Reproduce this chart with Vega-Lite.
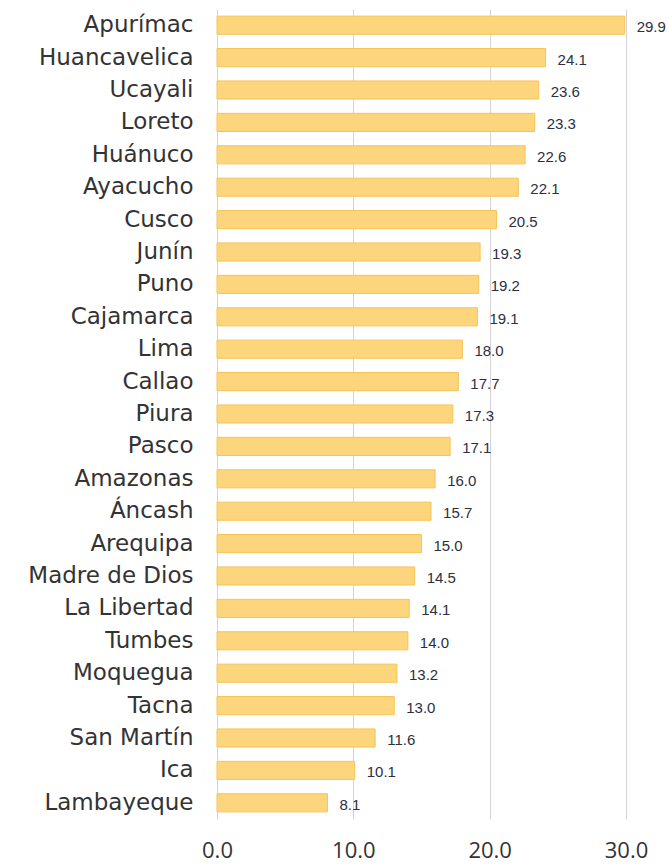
{
  "$schema": "https://vega.github.io/schema/vega-lite/v6.json",
  "autosize": {"type": "none"},
  "width": 409,
  "height": 810,
  "padding": {"left": 217, "top": 9, "right": 43, "bottom": 46},
  "background": "white",
  "config": {"view": {"stroke": null}},
  "data": {"values": [
    {"region": "Apurímac", "value": 29.9},
    {"region": "Huancavelica", "value": 24.1},
    {"region": "Ucayali", "value": 23.6},
    {"region": "Loreto", "value": 23.3},
    {"region": "Huánuco", "value": 22.6},
    {"region": "Ayacucho", "value": 22.1},
    {"region": "Cusco", "value": 20.5},
    {"region": "Junín", "value": 19.3},
    {"region": "Puno", "value": 19.2},
    {"region": "Cajamarca", "value": 19.1},
    {"region": "Lima", "value": 18.0},
    {"region": "Callao", "value": 17.7},
    {"region": "Piura", "value": 17.3},
    {"region": "Pasco", "value": 17.1},
    {"region": "Amazonas", "value": 16.0},
    {"region": "Áncash", "value": 15.7},
    {"region": "Arequipa", "value": 15.0},
    {"region": "Madre de Dios", "value": 14.5},
    {"region": "La Libertad", "value": 14.1},
    {"region": "Tumbes", "value": 14.0},
    {"region": "Moquegua", "value": 13.2},
    {"region": "Tacna", "value": 13.0},
    {"region": "San Martín", "value": 11.6},
    {"region": "Ica", "value": 10.1},
    {"region": "Lambayeque", "value": 8.1}
  ]},
  "encoding": {
    "y": {
      "field": "region", "type": "nominal", "sort": null,
      "scale": {"paddingInner": 0.44, "paddingOuter": 0.22},
      "axis": {
        "title": null, "domain": false, "ticks": false, "grid": false,
        "labelPadding": 24, "labelFontSize": 23, "labelFont": "DejaVu Sans",
        "labelColor": "#333333"
      }
    },
    "x": {
      "field": "value", "type": "quantitative",
      "scale": {"domain": [0, 30], "nice": false},
      "axis": {
        "title": null, "values": [0, 10, 20, 30], "format": ".1f",
        "domain": false, "ticks": false, "grid": true,
        "gridColor": "#d4d4d8", "gridWidth": 1,
        "labelPadding": 21, "labelFontSize": 22, "labelFont": "Open Sans",
        "labelColor": "#333333", "labelFlush": false
      }
    }
  },
  "layer": [
    {
      "mark": {"type": "bar", "fill": "#fcd57c", "stroke": "#f6c458", "strokeWidth": 1}
    },
    {
      "mark": {"type": "text", "align": "left", "baseline": "middle", "dx": 12, "dy": 2,
               "font": "Liberation Sans", "fontSize": 15, "fill": "#2c2f3f"},
      "encoding": {"text": {"field": "value", "type": "quantitative", "format": ".1f"}}
    }
  ]
}
